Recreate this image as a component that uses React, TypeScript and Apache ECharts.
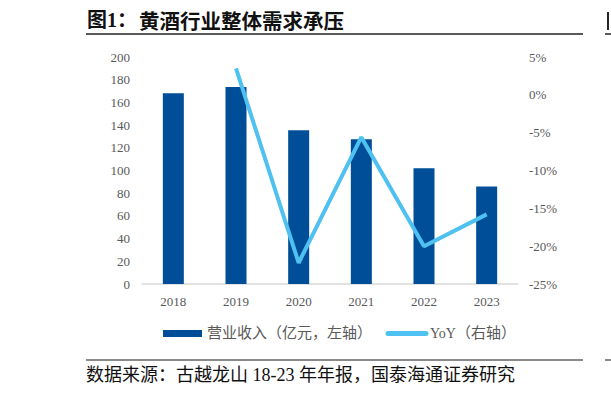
import React, { useEffect, useRef } from "react";
import * as echarts from "echarts";

const years = ["2018", "2019", "2020", "2021", "2022", "2023"];
const revenue = [168, 173.5, 135.5, 127.5, 102, 86];
const yoy: (number | string)[] = ["-", 3.5, -22.2, -5.6, -20, -15.8];
const leftTicks = { min: 0, max: 200, interval: 20 };
const rightTicks = { min: -25, max: 5, interval: 5 };

const titleLabel = "图1：";
const titleText = "黄酒行业整体需求承压";
const sourceText = "数据来源：古越龙山 18-23 年年报，国泰海通证券研究";
const legendBar = "营业收入（亿元，左轴）";
const legendLineA = "YoY";
const legendLineB = "（右轴）";

const BAR = "#004E98";
const LINE = "#4EC1F0";
const GREY = "#595959";
const SERIF = "'Liberation Serif', 'Times New Roman', 'Noto Sans CJK SC', serif";
const CJK = "'Liberation Serif', 'Noto Sans CJK SC', serif";
const CJKONLY = "'Noto Sans CJK SC', sans-serif";

export default function App() {
  const ref = useRef<HTMLDivElement>(null);
  useEffect(() => {
    if (!ref.current) return;
    const chart = echarts.init(ref.current, undefined, { renderer: "svg" });
    chart.setOption({
      animation: false,
      backgroundColor: "#ffffff",
      grid: { left: 142, right: 93, top: 57, bottom: 109, containLabel: false },
      xAxis: {
        type: "category",
        data: years,
        axisLine: { lineStyle: { color: "#D9D9D9", width: 1.5 } },
        axisTick: { show: false },
        axisLabel: { color: GREY, fontFamily: SERIF, fontSize: 13, margin: 11 },
      },
      yAxis: [
        {
          type: "value",
          ...leftTicks,
          splitLine: { show: false },
          axisLine: { show: false },
          axisTick: { show: false },
          axisLabel: { color: GREY, fontFamily: SERIF, fontSize: 13, margin: 12 },
        },
        {
          type: "value",
          ...rightTicks,
          position: "right",
          splitLine: { show: false },
          axisLine: { show: false },
          axisTick: { show: false },
          axisLabel: {
            color: GREY,
            fontFamily: SERIF,
            fontSize: 13,
            margin: 11,
            formatter: (v: number) => `${v}%`,
          },
        },
      ],
      series: [
        {
          name: "营业收入（亿元，左轴）",
          type: "bar",
          data: revenue,
          barWidth: 21,
          itemStyle: { color: BAR },
          yAxisIndex: 0,
        },
        {
          name: "YoY（右轴）",
          type: "line",
          data: yoy,
          yAxisIndex: 1,
          showSymbol: false,
          symbol: "none",
          lineStyle: { color: LINE, width: 4 },
          itemStyle: { color: LINE },
        },
      ],
      graphic: [
        {
          type: "text",
          left: 87,
          top: 10,
          style: { text: titleLabel, font: `bold 20px ${CJK}`, fill: "#111" },
        },
        {
          type: "text",
          left: 139,
          top: 10,
          style: { text: titleText, font: `bold 20.5px ${CJKONLY}`, fill: "#111" },
        },
        { type: "line", shape: { x1: 86, y1: 34, x2: 583, y2: 34 }, style: { stroke: "#222", lineWidth: 1.5 } },
        { type: "line", shape: { x1: 605, y1: 34, x2: 611, y2: 34 }, style: { stroke: "#222", lineWidth: 1.5 } },
        { type: "rect", shape: { x: 607, y: 12, width: 2, height: 18 }, style: { fill: "#222" } },
        { type: "rect", shape: { x: 163, y: 330, width: 39, height: 7 }, style: { fill: BAR } },
        {
          type: "text",
          left: 207,
          top: 324,
          style: { text: legendBar, font: `15px ${CJKONLY}`, fill: GREY },
        },
        {
          type: "line",
          shape: { x1: 388, y1: 333.5, x2: 426, y2: 333.5 },
          style: { stroke: LINE, lineWidth: 5, lineCap: "round" },
        },
        {
          type: "text",
          left: 430,
          top: 326,
          style: { text: legendLineA, font: `14px ${SERIF}`, fill: GREY },
        },
        {
          type: "text",
          left: 456,
          top: 324,
          style: { text: legendLineB, font: `15px ${CJKONLY}`, fill: GREY },
        },
        { type: "line", shape: { x1: 86, y1: 360, x2: 583, y2: 360 }, style: { stroke: "#8a8a8a", lineWidth: 2 } },
        { type: "line", shape: { x1: 605, y1: 360, x2: 611, y2: 360 }, style: { stroke: "#8a8a8a", lineWidth: 2 } },
        {
          type: "text",
          left: 86,
          top: 366,
          style: { text: sourceText, font: `18px ${CJK}`, fill: "#111" },
        },
      ],
    });
    return () => chart.dispose();
  }, []);
  return (
    <div
      ref={ref}
      style={{ position: "fixed", left: 0, top: 0, width: 611, height: 393, background: "#fff" }}
    />
  );
}
